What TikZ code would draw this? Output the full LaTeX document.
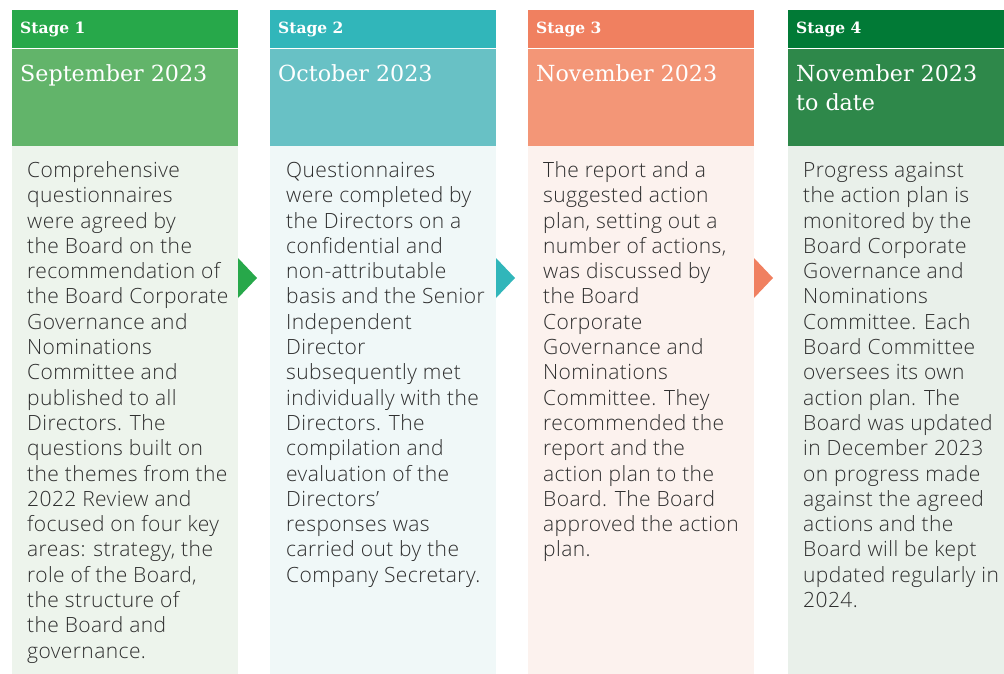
\documentclass[tikz,border=0pt]{standalone}
\usepackage{fontspec}
\setmainfont{Open Sans Light}[LetterSpace=2]
\newfontfamily\datefont{DejaVu Serif}
\newfontfamily\stagefont{DejaVu Serif}
\definecolor{hA}{HTML}{27A84A}\definecolor{dA}{HTML}{62B46A}\definecolor{bA}{HTML}{EDF4EC}
\definecolor{hB}{HTML}{31B6BA}\definecolor{dB}{HTML}{68C1C5}\definecolor{bB}{HTML}{F0F8F8}
\definecolor{hC}{HTML}{F08060}\definecolor{dC}{HTML}{F39677}\definecolor{bC}{HTML}{FCF2EE}
\definecolor{hD}{HTML}{017A36}\definecolor{dD}{HTML}{2E884A}\definecolor{bD}{HTML}{E9F0EA}
\definecolor{bodytext}{HTML}{2E2E2E}
\tikzset{
  stagelbl/.style={anchor=base west,inner sep=0,text=white,font=\stagefont\bfseries\fontsize{15.5}{17}\selectfont},
  datelbl/.style={anchor=base west,inner sep=0,text=white,align=left,font=\datefont\fontsize{22.2}{29}\selectfont},
  bodytxt/.style={anchor=north west,inner sep=0,text=bodytext,align=left,font=\fontsize{21}{25.3}\selectfont}
}
\begin{document}
\begin{tikzpicture}[x=1pt,y=-1pt]
\useasboundingbox (0,0) rectangle (1004,674);
% column 1
\fill[hA] (12,10) rectangle (238,48);
\fill[dA] (12,49) rectangle (238,146);
\fill[bA] (12,146) rectangle (238,674);
\node[stagelbl] (s1) at (20,34) {Stage 1};
\node[datelbl] (d1) at (20,82) {September 2023};
\node[bodytxt] (t1) at (27,159.5) {\strut Comprehensive\\questionnaires\\were agreed by\\the Board on the\\recommendation of\\the Board Corporate\\Governance and\\Nominations\\Committee and\\published to all\\Directors. The\\questions built on\\the themes from the\\2022 Review and\\focused on four key\\areas: strategy, the\\role of the Board,\\the structure of\\the Board and\\governance.};
\fill[hA] (238,258) -- (257,278) -- (238,298) -- cycle;
% column 2
\fill[hB] (270,10) rectangle (496,48);
\fill[dB] (270,49) rectangle (496,146);
\fill[bB] (270,146) rectangle (496,674);
\node[stagelbl] (s2) at (278,34) {Stage 2};
\node[datelbl] (d2) at (278,82) {October 2023};
\node[bodytxt] (t2) at (286,159.5) {\strut Questionnaires\\were completed by\\the Directors on a\\confidential and\\non-attributable\\basis and the Senior\\Independent\\Director\\subsequently met\\individually with the\\Directors. The\\compilation and\\evaluation of the\\Directors’\\responses was\\carried out by the\\Company Secretary.};
\fill[hB] (496,258) -- (515,278) -- (496,298) -- cycle;
% column 3
\fill[hC] (528,10) rectangle (754,48);
\fill[dC] (528,49) rectangle (754,146);
\fill[bC] (528,146) rectangle (754,674);
\node[stagelbl] (s3) at (536,34) {Stage 3};
\node[datelbl] (d3) at (536,82) {November 2023};
\node[bodytxt] (t3) at (543,159.5) {\strut The report and a\\suggested action\\plan, setting out a\\number of actions,\\was discussed by\\the Board\\Corporate\\Governance and\\Nominations\\Committee. They\\recommended the\\report and the\\action plan to the\\Board. The Board\\approved the action\\plan.};
\fill[hC] (754,258) -- (773,278) -- (754,298) -- cycle;
% column 4
\fill[hD] (788,10) rectangle (1004,48);
\fill[dD] (788,49) rectangle (1004,146);
\fill[bD] (788,146) rectangle (1004,674);
\node[stagelbl] (s4) at (796,34) {Stage 4};
\node[datelbl] (d4) at (796,111) {November 2023\\to date};
\node[bodytxt] (t4) at (803,159.5) {\strut Progress against\\the action plan is\\monitored by the\\Board Corporate\\Governance and\\Nominations\\Committee. Each\\Board Committee\\oversees its own\\action plan. The\\Board was updated\\in December 2023\\on progress made\\against the agreed\\actions and the\\Board will be kept\\updated regularly in\\2024.};
\end{tikzpicture}
\end{document}
